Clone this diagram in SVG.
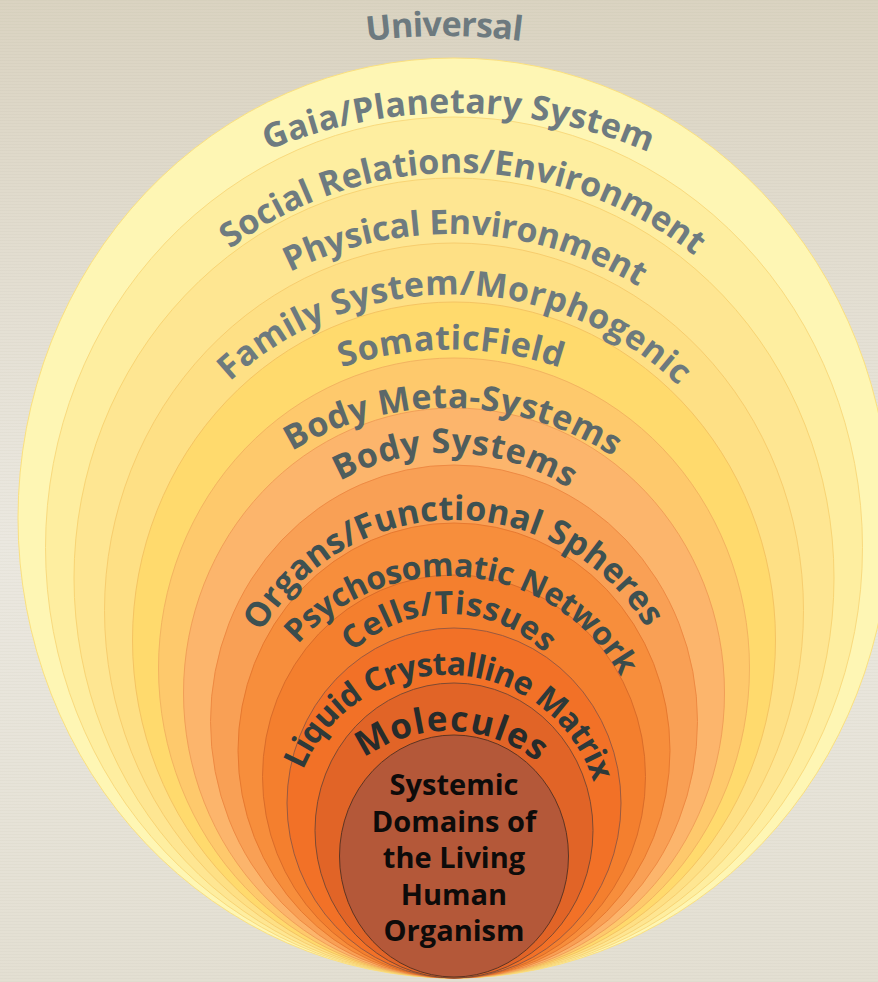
<svg xmlns="http://www.w3.org/2000/svg" width="878" height="982" viewBox="0 0 878 982">
  <defs>
    <linearGradient id="bg" x1="0" y1="0" x2="0" y2="1">
      <stop offset="0" stop-color="#DAD3C1"/>
      <stop offset="0.55" stop-color="#EBE8E0"/>
      <stop offset="1" stop-color="#E3DFD2"/>
    </linearGradient>
    <pattern id="grain" width="6" height="3" patternUnits="userSpaceOnUse">
      <rect width="6" height="1" fill="#7A6E55" opacity="0.035"/>
    </pattern>
    <!-- baselines of the curved ring labels (each starts where its text starts) -->
    <path id="p-universal" d="M 367 41.1 A 600 600 0 0 1 1040.6 563.7"/>
    <path id="p-gaia" d="M 268 150.4 A 491 491 0 0 1 943.4 544.8"/>
    <path id="p-social" d="M 230 249 A 379 379 0 0 1 834.2 506.3"/>
    <path id="p-physical" d="M 290 272.1 A 359 359 0 0 1 807.4 549.7"/>
    <path id="p-family" d="M 230 381.5 A 327 327 0 0 1 776.6 582.6"/>
    <path id="p-somatic" d="M 342 367.6 A 339 339 0 0 1 787.5 648.2"/>
    <path id="p-meta" d="M 292 451 A 304 304 0 0 1 749.8 675.4"/>
    <path id="p-body" d="M 340 481 A 222 222 0 0 1 668.4 648.2"/>
    <path id="p-organs" d="M 261.4 632.3 A 223 223 0 0 1 676.4 716.1"/>
    <path id="p-psycho" d="M 298 644.4 A 199 199 0 0 1 645.5 752"/>
    <path id="p-cells" d="M 352.8 652 A 138 138 0 0 1 585 735.4"/>
    <path id="p-liquid" d="M 303 770 A 155 155 0 0 1 599.9 811.3"/>
    <path id="p-molecules" d="M 364 758 A 144 144 0 0 1 590.9 857.6"/>
  </defs>
  <style>
    .ring { stroke-width: 1; }
    .lbl { font-family: "Open Sans", "Liberation Sans", sans-serif; font-weight: 700; font-size: 34px; }
    .core { font-family: "Open Sans", "Liberation Sans", sans-serif; font-weight: 700; font-size: 29px; fill: #0d0b0a; text-anchor: middle; }
  </style>

  <!-- paper background -->
  <rect width="878" height="982" fill="url(#bg)"/>
  <rect width="878" height="982" fill="url(#grain)"/>

  <!-- nested domains, outermost first, all meeting at the bottom -->
  <g id="rings">
    <g id="gaia"><ellipse class="ring" cx="454" cy="518" rx="436" ry="460" fill="#FEF6B4" stroke="#FBE07F"/></g>
    <g id="social"><ellipse class="ring" cx="454" cy="547.5" rx="408.5" ry="430.5" fill="#FEEEA0" stroke="#F9DA7E"/></g>
    <g id="physical"><ellipse class="ring" cx="454" cy="578" rx="380" ry="400" fill="#FEE692" stroke="#F8D474"/></g>
    <g id="family"><ellipse class="ring" cx="454" cy="610.5" rx="349.5" ry="367.5" fill="#FEE085" stroke="#F7CD6E"/></g>
    <g id="somatic"><ellipse class="ring" cx="454" cy="640" rx="321.5" ry="338" fill="#FFDA6D" stroke="#F5C462"/></g>
    <g id="meta-systems"><ellipse class="ring" cx="454" cy="668" rx="295.5" ry="310" fill="#FEC96C" stroke="#F3B460"/></g>
    <g id="body-systems"><ellipse class="ring" cx="454" cy="693" rx="270.5" ry="285" fill="#FCB56C" stroke="#F19F58"/></g>
    <g id="organs"><ellipse class="ring" cx="454" cy="721.5" rx="243.5" ry="256.5" fill="#F9A055" stroke="#EE8A43"/></g>
    <g id="psychosomatic"><ellipse class="ring" cx="454" cy="750.5" rx="216" ry="227.5" fill="#F78E3C" stroke="#E77930"/></g>
    <g id="cells"><ellipse class="ring" cx="454" cy="776.5" rx="191.5" ry="201.5" fill="#F47F2E" stroke="#D96C2A"/></g>
    <g id="liquid"><ellipse class="ring" cx="454" cy="803" rx="167" ry="175" fill="#F27127" stroke="#9A5A40"/></g>
    <g id="molecules"><ellipse class="ring" cx="454" cy="830.5" rx="139" ry="147.5" fill="#E16427" stroke="#7E4A32"/></g>
    <g id="organism"><ellipse class="ring" cx="454" cy="856" rx="114.5" ry="121" fill="#B45839" stroke="#5E3422"/></g>
  </g>

  <!-- curved ring labels -->
  <g id="labels" class="lbl">
    <g id="label-universal"><text fill="#6D7A7F"><textPath href="#p-universal" textLength="155">Universal</textPath></text></g>
    <g id="label-gaia"><text fill="#6E7B80"><textPath href="#p-gaia" textLength="391">Gaia/Planetary System</textPath></text></g>
    <g id="label-social"><text fill="#6E7B80"><textPath href="#p-social" textLength="500">Social Relations/Environment</textPath></text></g>
    <g id="label-physical"><text fill="#6E7B80"><textPath href="#p-physical" textLength="364">Physical Environment</textPath></text></g>
    <g id="label-family"><text fill="#6D7A7E"><textPath href="#p-family" textLength="494">Family System/Morphogenic</textPath></text></g>
    <g id="label-somatic"><text fill="#6A7679"><textPath href="#p-somatic" textLength="222">SomaticField</textPath></text></g>
    <g id="label-meta"><text fill="#5C6869"><textPath href="#p-meta" textLength="338">Body Meta-Systems</textPath></text></g>
    <g id="label-body"><text fill="#4F5D5D"><textPath href="#p-body" textLength="240">Body Systems</textPath></text></g>
    <g id="label-organs"><text fill="#3D5152"><textPath href="#p-organs" textLength="464">Organs/Functional Spheres</textPath></text></g>
    <g id="label-psycho"><text fill="#3B4C4C" font-size="32"><textPath href="#p-psycho" textLength="379">Psychosomatic Network</textPath></text></g>
    <g id="label-cells"><text fill="#384747" font-size="32"><textPath href="#p-cells" textLength="212">Cells/Tissues</textPath></text></g>
    <g id="label-liquid"><text fill="#2E3A3A" font-size="32"><textPath href="#p-liquid" textLength="377">Liquid Crystalline Matrix</textPath></text></g>
    <g id="label-molecules"><text fill="#262B2B" font-size="35"><textPath href="#p-molecules" textLength="186">Molecules</textPath></text></g>
  </g>

  <!-- centre caption -->
  <g id="label-organism" class="core">
    <text x="454" y="795">Systemic</text>
    <text x="454" y="832">Domains of</text>
    <text x="454" y="868">the Living</text>
    <text x="454" y="905">Human</text>
    <text x="454" y="941">Organism</text>
  </g>
</svg>
